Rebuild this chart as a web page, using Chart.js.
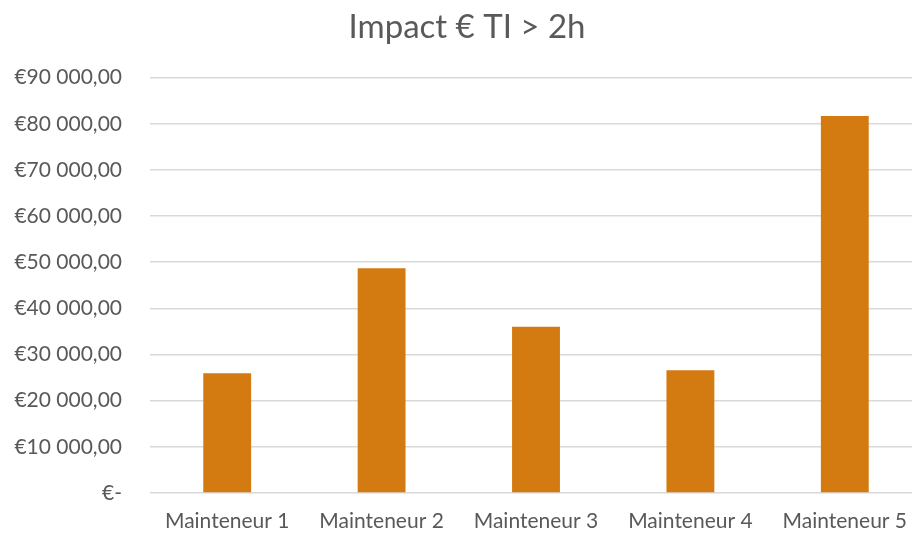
<!DOCTYPE html>
<html>
<head>
<meta charset="utf-8">
<script src="https://cdn.jsdelivr.net/npm/chart.js@4"></script>
<style>
  html, body { margin: 0; padding: 0; background: #fff; overflow: hidden; }
  #outer { width: 912px; height: 537px; overflow: hidden; }
  #wrap { width: 922px; height: 537px; }
</style>
</head>
<body>
<div id="outer"><div id="wrap"><canvas id="impactChart"></canvas></div></div>
<script>
const categories = ['Mainteneur 1', 'Mainteneur 2', 'Mainteneur 3', 'Mainteneur 4', 'Mainteneur 5'];
const impactValues = [25950, 48700, 36000, 26600, 81700];
const yTicks = [0, 10000, 20000, 30000, 40000, 50000, 60000, 70000, 80000, 90000];

const textColor = '#595959';
const font = 'Lato, "Open Sans", sans-serif';

function euro(v) {
    if (v === 0) return '€-';
    const parts = v.toFixed(2).split('.');
    return '€' + parts[0].replace(/\B(?=(\d{3})+(?!\d))/g, ' ') + ',' + parts[1];
}

const ctx = document.getElementById('impactChart').getContext('2d');
new Chart(ctx, {
    type: 'bar',
    data: {
        labels: categories,
        datasets: [{
            label: 'Impact € TI > 2h',
            data: impactValues,
            backgroundColor: '#D37A10',
            barPercentage: 0.31,
            categoryPercentage: 1.0
        }]
    },
    options: {
        responsive: true,
        maintainAspectRatio: false,
        animation: false,
        layout: { padding: { left: 12, right: 0, top: 8, bottom: 0 } },
        plugins: {
            legend: { display: false },
            tooltip: { enabled: false },
            title: {
                display: true,
                text: 'Impact € TI > 2h',
                color: textColor,
                font: { family: font, size: 33, weight: 'normal' },
                padding: { top: 0, bottom: 30 }
            }
        },
        scales: {
            x: {
                afterFit: (scale) => { scale.height = 44; },
                grid: { display: false },
                border: { display: false },
                ticks: {
                    color: textColor,
                    font: { family: font, size: 21 },
                    padding: 8,
                    maxRotation: 0
                }
            },
            y: {
                min: 0,
                max: 90000,
                afterFit: (scale) => { scale.width = 138; },
                afterBuildTicks: (scale) => { scale.ticks = yTicks.map((v) => ({ value: v })); },
                grid: { color: '#d9d9d9', lineWidth: 1.5, drawTicks: false },
                border: { display: false },
                ticks: {
                    color: textColor,
                    font: { family: font, size: 21 },
                    padding: 28,
                    callback: (v) => euro(v)
                }
            }
        }
    }
});
</script>
</body>
</html>
